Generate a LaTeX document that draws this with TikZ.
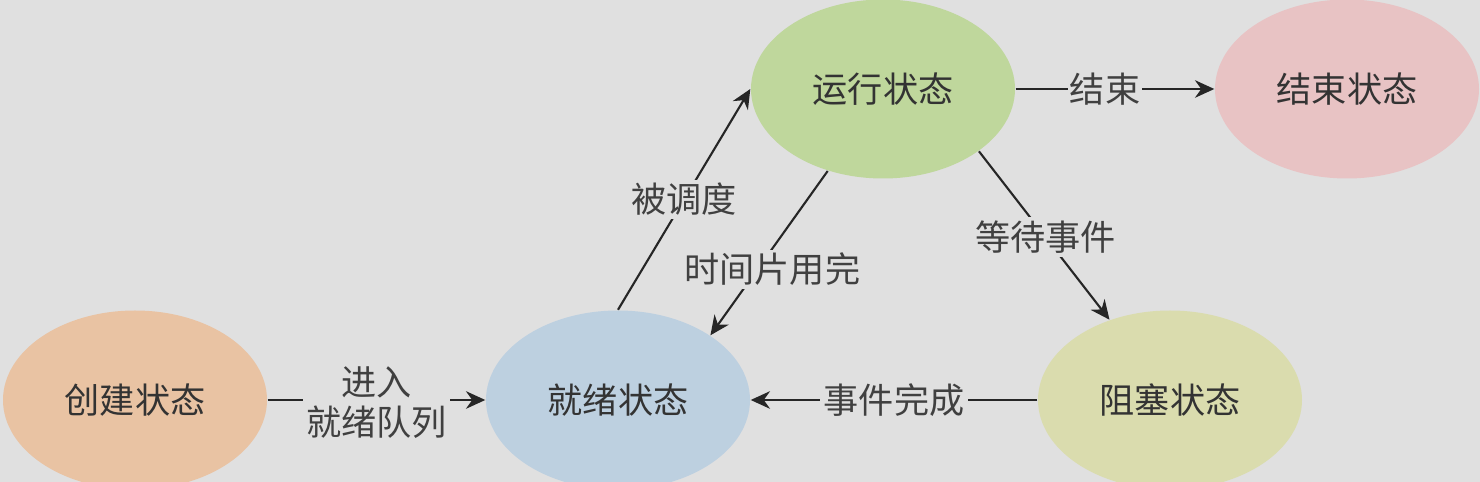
\documentclass[tikz,border=0pt]{standalone}
\usepackage{fontspec}
\setmainfont{Noto Sans CJK SC}
\usetikzlibrary{arrows.meta,shapes.geometric}
\definecolor{bgray}{HTML}{E0E0E0}
\definecolor{createcol}{HTML}{E9C3A3}
\definecolor{readycol}{HTML}{BDD0E0}
\definecolor{runcol}{HTML}{BFD79C}
\definecolor{endcol}{HTML}{E8C3C4}
\definecolor{blockcol}{HTML}{DADCAE}
\tikzset{
  state/.style={ellipse,minimum width=2.64cm,minimum height=1.79cm,inner sep=0pt,
    text=black!80,font=\fontsize{10}{12}\selectfont},
  trans/.style={-{Stealth[length=5.5pt,width=5pt]},line width=0.6pt,draw=black!85},
  lbl/.style={fill=bgray,inner sep=1pt,text=black!75,font=\fontsize{10}{11.4}\selectfont}
}
\begin{document}
\begin{tikzpicture}
  \fill[bgray] (0,0) rectangle (14.8,4.82);
  \useasboundingbox (0,0) rectangle (14.8,4.82);
  \node[state,fill=createcol] (create) at (1.35,0.82) {创建状态};
  \node[state,fill=readycol] (ready) at (6.18,0.82) {就绪状态};
  \node[state,fill=runcol] (run) at (8.83,3.93) {运行状态};
  \node[state,fill=endcol] (end) at (13.47,3.93) {结束状态};
  \node[state,fill=blockcol] (block) at (11.70,0.82) {阻塞状态};
  \draw[trans] (create) -- node[lbl,pos=0.5,yshift=-0.03cm,align=center] {进入\\就绪队列} (ready);
  \draw[trans] (ready.north) -- node[lbl,pos=0.5] {被调度} (run.west);
  \draw[trans] (run.236) -- node[lbl,pos=0.6,xshift=0.15cm] {时间片用完} (ready.35);
  \draw[trans] (run.-33) -- node[lbl,pos=0.51] {等待事件} (block.127);
  \draw[trans] (run) -- node[lbl,pos=0.45,inner sep=0.5pt] {结束} (end);
  \draw[trans] (block) -- node[lbl,pos=0.5] {事件完成} (ready);
\end{tikzpicture}
\end{document}
